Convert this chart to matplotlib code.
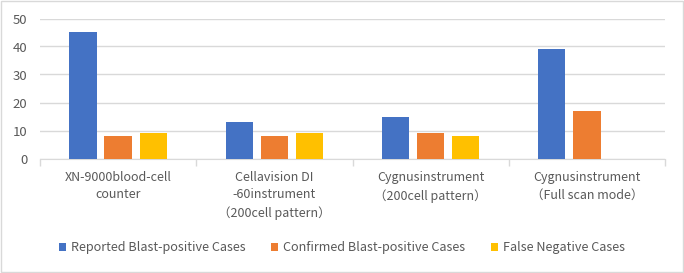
import matplotlib.pyplot as plt
import numpy as np

plt.rcParams["font.family"] = ["Noto Sans CJK SC", "DejaVu Sans"]

categories = [
    "XN-9000blood-cell\ncounter",
    "Cellavision DI\n-60instrument\n（200cell pattern）",
    "Cygnusinstrument\n（200cell pattern）",
    "Cygnusinstrument\n（Full scan mode）",
]
reported = [45, 13, 15, 39]
confirmed = [8, 8, 9, 17]
false_neg = [9, 9, 8, 0]

series = [
    ("Reported Blast-positive Cases", reported, "#4472C4"),
    ("Confirmed Blast-positive Cases", confirmed, "#ED7D31"),
    ("False Negative Cases", false_neg, "#FFC000"),
]

text_col = "#595959"
grid_col = "#D9D9D9"

fig = plt.figure(figsize=(6.84, 2.73), dpi=100)
ax = fig.add_axes([40 / 684, 1 - 158.5 / 273, 625 / 684, 140 / 273])

x = np.arange(len(categories))
width = 0.175
offsets = [-0.225, 0.0, 0.225]
for (label, vals, col), off in zip(series, offsets):
    ax.bar(x + off, vals, width, color=col, label=label, zorder=3)

ax.set_xlim(-0.5, len(categories) - 0.5)
ax.set_ylim(0, 50)
ax.set_yticks(range(0, 51, 10))
ax.yaxis.grid(True, color=grid_col, linewidth=1, zorder=0)
ax.tick_params(axis="y", length=0, colors=text_col, labelsize=9.5, pad=9)

ax.set_xticks(x)
ax.set_xticklabels(categories, color=text_col, fontsize=9, linespacing=1.45)
ax.tick_params(axis="x", length=0, pad=9)
ax.set_xticks(np.arange(-0.5, len(categories)), minor=True)
ax.tick_params(axis="x", which="minor", length=5, color=grid_col, width=1)

for side in ["top", "right", "left"]:
    ax.spines[side].set_visible(False)
ax.spines["bottom"].set_color(grid_col)

ax.legend(
    loc="center",
    bbox_to_anchor=(0.5, 1 - 248 / 273),
    bbox_transform=fig.transFigure,
    ncol=3,
    frameon=False,
    fontsize=9.1,
    labelcolor=text_col,
    handlelength=0.55,
    handleheight=0.55,
    handletextpad=0.4,
    columnspacing=2.0,
)

fig.patches.append(
    plt.Rectangle((0.001, 0.002), 0.997, 0.995, transform=fig.transFigure,
                  fill=False, edgecolor="#D9D9D9", linewidth=1)
)

fig.savefig("out.png", dpi=100)
